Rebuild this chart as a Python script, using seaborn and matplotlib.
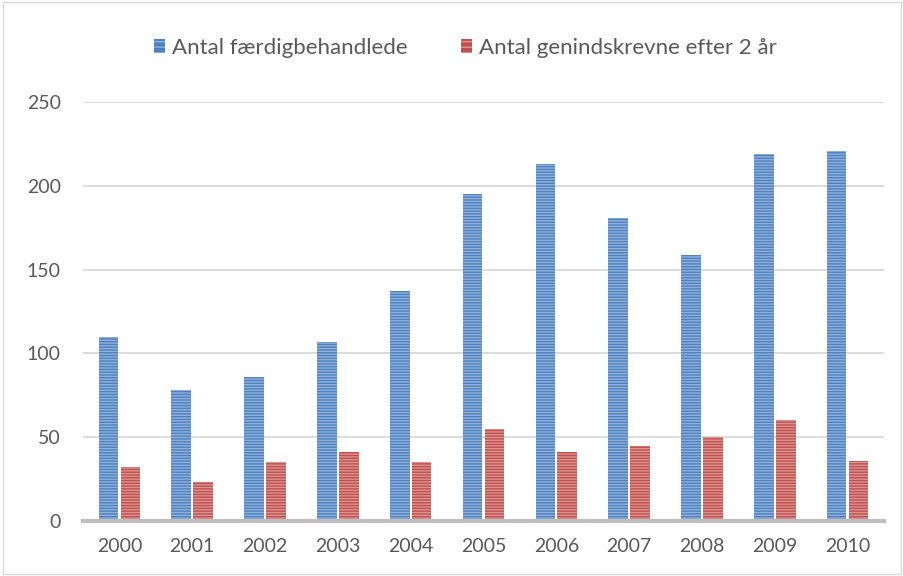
"""Bar chart: færdigbehandlede vs. genindskrevne efter 2 år, 2000-2010."""

import matplotlib
matplotlib.use("Agg")
import matplotlib.pyplot as plt
import pandas as pd
import seaborn as sns
from matplotlib.patches import Rectangle

years = ["2000", "2001", "2002", "2003", "2004", "2005",
         "2006", "2007", "2008", "2009", "2010"]
faerdig = [110, 78, 86, 107, 137, 195, 213, 181, 159, 219, 221]
genind = [32, 23, 35, 41, 35, 55, 41, 45, 50, 60, 36]
series_names = ["Antal færdigbehandlede", "Antal genindskrevne efter 2 år"]
y_ticks = [0, 50, 100, 150, 200, 250]

BLUE, BLUE_STRIPE = "#4F81BD", "#8EB0DD"
RED, RED_STRIPE = "#C0504D", "#DD9390"
TEXT = "#595959"

df = pd.DataFrame({"år": years, series_names[0]: faerdig, series_names[1]: genind})
long_df = df.melt(id_vars="år", var_name="serie", value_name="antal")

sns.set_theme(style="white")
plt.rcParams["font.family"] = ["Lato", "DejaVu Sans"]
plt.rcParams["hatch.linewidth"] = 1.0

fig = plt.figure(figsize=(9.04, 5.76), dpi=100)
ax = fig.add_axes([83 / 904, 55 / 576, 801 / 904, 419 / 576])

sns.barplot(
    data=long_df, x="år", y="antal", hue="serie",
    palette=[BLUE, RED], width=0.6, gap=0.1, ax=ax,
    saturation=1, legend=False,
)

stripes = {BLUE: BLUE_STRIPE, RED: RED_STRIPE}
for i, patch in enumerate(ax.patches):
    base = BLUE if i < len(years) else RED
    patch.set_facecolor(base)
    patch.set_edgecolor(stripes[base])
    patch.set_linewidth(0)
    patch.set_hatch("------")

ax.set_ylim(0, 250)
ax.set_xlim(-0.5, len(years) - 0.5)
ax.set_yticks(y_ticks)
ax.set_yticklabels([str(t) for t in y_ticks])
ax.yaxis.grid(True, color="#D9D9D9", linewidth=1.3)
ax.set_axisbelow(True)
ax.set_xlabel("")
ax.set_ylabel("")
for side in ["top", "right", "left"]:
    ax.spines[side].set_visible(False)
ax.spines["bottom"].set_color("#BFBFBF")
ax.spines["bottom"].set_linewidth(3)
ax.tick_params(axis="both", length=0, labelsize=14, colors=TEXT)
ax.tick_params(axis="x", pad=12)
ax.tick_params(axis="y", pad=16)

handles = [
    Rectangle((0, 0), 1, 1, facecolor=BLUE, edgecolor=BLUE_STRIPE, linewidth=0, hatch="---"),
    Rectangle((0, 0), 1, 1, facecolor=RED, edgecolor=RED_STRIPE, linewidth=0, hatch="---"),
]
fig.legend(
    handles, series_names, loc="center", bbox_to_anchor=(0.515, 1 - 48 / 576),
    ncol=2, frameon=False, fontsize=16, labelcolor=TEXT,
    handlelength=0.5, handleheight=0.6, handletextpad=0.3, columnspacing=2.4,
)

fig.patches.append(Rectangle((0.003, 0.003), 0.994, 0.994, transform=fig.transFigure,
                             fill=False, edgecolor="#D9D9D9", linewidth=1))

fig.savefig("out.png", dpi=100)
